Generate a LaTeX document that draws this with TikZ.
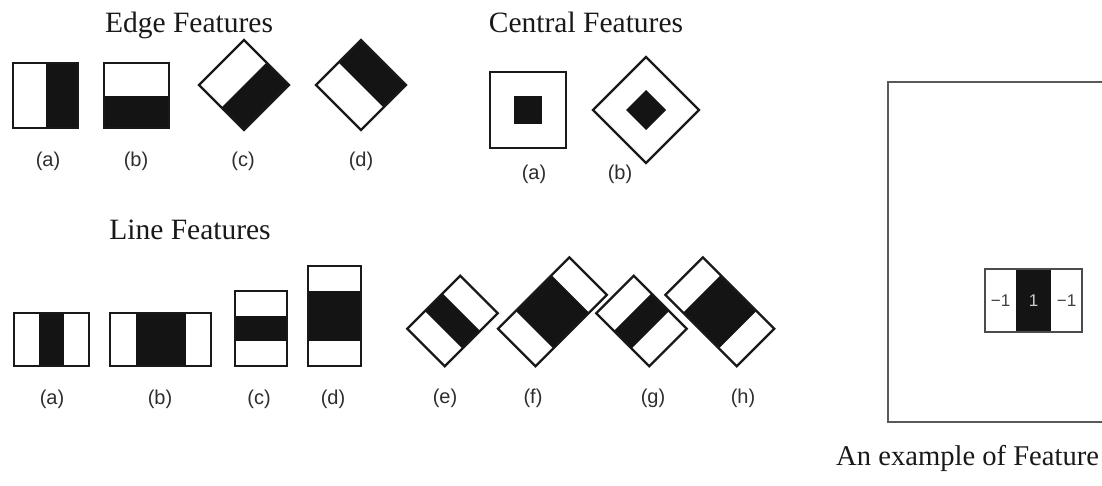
\documentclass[tikz,border=0pt]{standalone}
\usepackage{fontspec}
\setmainfont{Liberation Serif}
\newfontfamily\lblfont{Liberation Sans}
\begin{document}
\begin{tikzpicture}[x=1pt,y=-1pt,
  fb/.style={draw=black!90,line width=2.3pt,line join=miter},
  blk/.style={fill=black!92},
  ttl/.style={font=\fontsize{29.5}{31}\selectfont,text=black!90,anchor=base,inner sep=0pt},
  lbl/.style={font=\lblfont\fontsize{20}{22}\selectfont,text=black!82,inner sep=0pt},
  num/.style={font=\lblfont\fontsize{17}{18}\selectfont,inner sep=0pt}]
\useasboundingbox (0,0) rectangle (1102,485);
\fill[white] (0,0) rectangle (1102,485);
\clip (0,0) rectangle (1102,485);

% ---------- titles
\node[ttl] (tEdge) at (189,32) {Edge Features};
\node[ttl] (tCent) at (586,32) {Central Features};
\node[ttl] (tLine) at (190,239) {Line Features};
\node[ttl,font=\fontsize{28.6}{30}\selectfont,anchor=base west] (tCap) at (836,465) {An example of Feature};

% ---------- edge features
% (a)
\fill[blk] (45.5,63) rectangle (78,128);
\draw[fb] (13,63) rectangle (78,128);
% (b)
\fill[blk] (104,96) rectangle (169,128);
\draw[fb] (104,63) rectangle (169,128);
% (c)
\fill[blk] (221.5,107.5) -- (266.5,62.5) -- (289,85) -- (244,130) -- cycle;
\draw[fb] (244,40) -- (289,85) -- (244,130) -- (199,85) -- cycle;
% (d)
\fill[blk] (338.5,62.5) -- (361,40) -- (406,85) -- (383.5,107.5) -- cycle;
\draw[fb] (361,40) -- (406,85) -- (361,130) -- (316,85) -- cycle;

\node[lbl] (ea) at (48,161) {(a)};
\node[lbl] (eb) at (136,161) {(b)};
\node[lbl] (ec) at (243,161) {(c)};
\node[lbl] (ed) at (361,161) {(d)};

% ---------- central features
\draw[fb] (490,72) rectangle (566,148);
\fill[blk] (514,96) rectangle (542,124);
\draw[fb] (646,57) -- (699,110) -- (646,163) -- (593,110) -- cycle;
\fill[blk] (646,90) -- (666,110) -- (646,130) -- (626,110) -- cycle;
\node[lbl] (ca) at (534,174) {(a)};
\node[lbl] (cb) at (620,174) {(b)};

% ---------- line features, upright
% (a)
\fill[blk] (39,313) rectangle (64,366);
\draw[fb] (14,313) rectangle (89,366);
% (b)
\fill[blk] (135.5,313) rectangle (186,366);
\draw[fb] (110,313) rectangle (211,366);
% (c)
\fill[blk] (235,316) rectangle (287,341);
\draw[fb] (235,291) rectangle (287,366);
% (d)
\fill[blk] (308,291) rectangle (361,341);
\draw[fb] (308,266) rectangle (361,366);

% ---------- line features, tilted
% (e)
\begin{scope}[shift={(452.5,321)},rotate=45]
  \fill[blk] (-12.5,-26.5) rectangle (12.5,26.5);
  \draw[fb] (-37.5,-26.5) rectangle (37.5,26.5);
\end{scope}
% (f)
\begin{scope}[shift={(552.5,311.8)},rotate=45]
  \fill[blk] (-25.25,-26.5) rectangle (25.25,26.5);
  \draw[fb] (-50.5,-26.5) rectangle (50.5,26.5);
\end{scope}
% (g)
\begin{scope}[shift={(641.5,321)},rotate=-45]
  \fill[blk] (-12.5,-26.5) rectangle (12.5,26.5);
  \draw[fb] (-37.5,-26.5) rectangle (37.5,26.5);
\end{scope}
% (h)
\begin{scope}[shift={(719.8,311.8)},rotate=-45]
  \fill[blk] (-25.25,-26.5) rectangle (25.25,26.5);
  \draw[fb] (-50.5,-26.5) rectangle (50.5,26.5);
\end{scope}

\node[lbl] (la) at (52,399) {(a)};
\node[lbl] (lb) at (160,399) {(b)};
\node[lbl] (lc) at (259,399) {(c)};
\node[lbl] (ld) at (333,399) {(d)};
\node[lbl] (le) at (445,398) {(e)};
\node[lbl] (lf) at (533,398) {(f)};
\node[lbl] (lg) at (653,398) {(g)};
\node[lbl] (lh) at (743,398) {(h)};

% ---------- example panel
\draw[draw=black!65,line width=1.6pt] (888,82) rectangle (1120,422);
\fill[blk] (1016,269) rectangle (1051,332);
\draw[draw=black!70,line width=1.4pt] (985,269) rectangle (1082,332);
\node[num,text=black!75] (m1) at (1000.5,300.5) {−1};
\node[num,text=white!80!black] (p1) at (1033.5,300.5) {1};
\node[num,text=black!75] (m2) at (1066.5,300.5) {−1};
\end{tikzpicture}
\end{document}
